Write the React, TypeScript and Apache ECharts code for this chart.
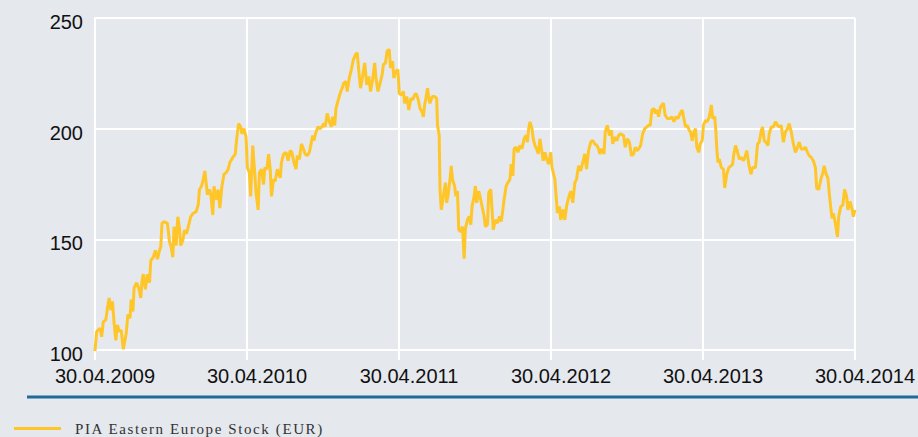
import React, { useEffect, useRef } from "react";
import * as echarts from "echarts";

const seriesName = "PIA Eastern Europe Stock (EUR)";
const xTickLabels = ["30.04.2009", "30.04.2010", "30.04.2011", "30.04.2012", "30.04.2013", "30.04.2014"];
const yTicks = [100, 150, 200, 250];

// days since 30.04.2009
const days = [
  0, 4, 12, 16, 20, 26, 30, 34, 38, 42, 46, 50, 54, 58, 63, 68, 75, 79, 84, 87, 91, 94, 100, 105, 110, 113, 116, 121, 126, 131,
  134, 140, 145, 150, 155, 158, 161, 166, 174, 179, 183, 187, 190, 195, 199, 203, 206, 211, 215, 220, 225, 230, 236, 243, 248, 251,
  256, 260, 264, 267, 270, 275, 278, 283, 286, 291, 296, 300, 305, 310, 315, 320, 324, 331, 337, 340, 345, 350, 353, 358, 363, 366,
  371, 374, 379, 384, 387, 392, 395, 400, 405, 408, 413, 417, 421, 424, 429, 433, 438, 445, 448, 453, 459, 464, 469, 473, 478, 483,
  486, 491, 496, 501, 505, 510, 515, 520, 523, 526, 531, 536, 541, 545, 550, 553, 558, 563, 568, 571, 576, 579,
  589, 594, 598, 603, 606, 611, 616, 621, 626, 630, 634, 638, 643, 648, 653, 658, 662, 667, 672, 675, 680, 685, 690, 693, 698, 702,
  707, 710, 715, 718, 723, 728, 731, 736, 741, 744, 749, 754, 759, 763, 768, 771, 776, 781, 786, 789, 792, 795, 799, 802, 805, 810,
  816, 821, 823, 827, 829, 832, 837, 842, 845, 848, 853, 856, 859, 864, 867, 871, 874, 879, 883, 887, 890, 895, 899, 903, 906, 911,
  914, 917, 922, 925, 930, 935, 938, 943, 946, 951, 954, 957, 962, 967, 972, 976, 980, 983, 988, 992, 997, 1000, 1004, 1007, 1012,
  1016, 1021, 1026, 1031, 1036, 1039, 1042, 1045, 1050, 1053, 1057, 1061, 1065, 1069, 1074, 1077, 1081, 1085, 1090, 1095, 1098,
  1101, 1105, 1108, 1111, 1116, 1119, 1124, 1129, 1133, 1138, 1143, 1148, 1153, 1157, 1162, 1167, 1172, 1177, 1181, 1186, 1191,
  1196, 1201, 1206, 1210, 1213, 1218, 1223,
  1226, 1231, 1236, 1241, 1244, 1249, 1254, 1258, 1263, 1270, 1274, 1279, 1284, 1289, 1294, 1298, 1302, 1306, 1311, 1316, 1321,
  1326, 1330, 1334, 1338, 1343, 1346, 1351, 1354, 1359, 1366, 1370, 1375, 1382, 1386, 1391, 1396, 1401, 1406, 1411, 1414, 1419,
  1423, 1428, 1431, 1435, 1439, 1443, 1446, 1451, 1454, 1459, 1462, 1467, 1471, 1476, 1481, 1484, 1489, 1492, 1494, 1497, 1500,
  1505, 1510, 1513, 1518, 1523, 1528, 1532, 1535, 1539, 1543, 1548, 1553, 1558, 1563, 1566, 1571, 1576, 1580, 1587, 1592, 1596,
  1601, 1604, 1608, 1612, 1617, 1620, 1625, 1630, 1635, 1640, 1644, 1649, 1654, 1659, 1664, 1668, 1673, 1678, 1683, 1688, 1692,
  1697, 1702, 1707, 1712, 1716, 1721, 1726, 1731, 1734, 1739, 1744, 1749, 1752, 1757, 1761, 1765, 1768, 1771, 1774, 1779, 1784,
  1787, 1792, 1797, 1801, 1806, 1809, 1814, 1819, 1822, 1826,
];

const values = [
  99.5, 108.3, 109.8, 106, 112.8, 113.6, 119, 123.5, 118, 122, 112, 104.4, 111.3, 108.3, 109, 100.3, 107.5, 116, 114.4, 122.8, 117.4,
  128.1, 130.4, 128, 123.5, 131.2, 134.3, 127.4, 134.3, 130.4,
  140.4, 141.9, 145, 141.1, 145, 146.5, 157.2, 158, 157.2, 148.8, 146.5, 141.9, 155.7, 147.2, 160.2, 154.9, 147.2, 149.5, 154.1,
  152.6, 156.4, 160.2, 161.8, 162.5, 165.6, 172.5,
  174, 177.1, 180.9, 175.5, 170.2, 172.5, 171, 161, 174, 167.9, 172.5, 164.1, 174, 179.4, 180.1, 181.7, 184.7, 187, 188.5, 194.6,
  202.3, 200.8, 197.7, 200, 196.2, 182.4,
  180.1, 169.4, 192.4, 179.4, 171, 163.3, 180.1, 181.7, 174.8, 182.4, 181.7, 188.5, 181.7, 169.4, 177.1, 176.3, 181.7, 177.8,
  184.7, 188.5, 189.3, 185.5, 190.1, 189.3, 184.7, 181.7,
  187.8, 186.2, 193.1, 190.8, 188.5, 187.8, 189.3, 193.9, 196.9, 194.6, 198.5, 200.8, 200, 200.8, 202.3, 200.8, 206.9, 203.1,
  200.8, 205.4, 201.5, 209.2,
  216, 218.3, 220.6, 221.3, 216.8, 222.9, 226.7, 231.3, 233.5, 234.3, 225.9, 218.3, 223.6, 229.7, 219.8, 223.6, 216.8, 222.1,
  229.7, 222.9, 216.8, 220.6, 224.4, 229, 229.7, 235.1,
  235.8, 227.4, 230.5, 222.9, 225.9, 226.7, 216, 215.2, 216.8, 211.4, 214.5, 208.4, 213.7, 213, 215.2, 216, 213.7, 209.1, 207.6,
  205.3, 210.7, 213.7, 218.3, 213.7, 211.4, 214.5,
  214.5, 213.7, 201.5, 197, 172.6, 163.4, 169.5, 175.6, 166.5, 169.5, 177.1, 183.2, 177.1, 174.1, 169.5, 171.8, 154.3, 153.5,
  155.8, 141.3, 155, 158.8, 160.4, 156.6, 164.9, 169.5,
  174.1, 166.5, 171.8, 169.5, 164.9, 160.4, 155.8, 156.6, 171, 172.6, 163.4, 154.3, 158.8, 157.3, 160.4, 158, 163.4, 168, 174.1,
  175.6, 177.1, 184, 178.7, 190.9, 191.6,
  189.3, 192.4, 190.9, 195.4, 197, 193.9, 200, 203, 200, 195.4, 192.4, 190.9, 188.6, 195.4, 189.3, 185.5, 189.3, 186.3, 184,
  189.3, 182.5,
  180.2, 177.1, 169.5, 161.9, 164.9, 158.8, 163.4, 158.8, 164.9, 168.8, 171.8, 166.5, 175.6, 177.1, 183.2, 180.9, 184.8, 188.6,
  181.7, 190.1, 193.9,
  194.7, 193.1, 192.4, 190.9, 188.6, 190.9, 188.6,
  198.5, 201.5, 196.9, 199.2, 193.1, 196.2, 194.6, 196.9, 197.7, 196.9, 191.6, 195.4, 193.9, 187.8, 188.5, 191.6, 190.1, 190.8,
  192.4, 197.7, 200,
  200.8, 201.5, 201.5, 208.4, 209.2, 206.9, 208.4, 205.4, 209.9, 211.5, 206.1, 204.6, 204.6, 205.4, 203.1, 205.4, 204.6, 206.9,
  208.4, 205.4, 200.8,
  201.5, 199.2, 198.5, 194.6, 198.5, 200, 191.6, 189.3, 193.1, 194.6, 201.5, 203.8, 203.1, 205.4, 210.7, 204.6, 205.4, 198.5,
  190.8, 184.7, 186.2,
  182.4, 181.7, 173.2, 179.4, 182.4, 183.2, 183.9, 188.5, 192.4, 190.1, 186.2, 187, 185.5, 187.8, 190.1, 183.9, 179.4, 182.4,
  182.4, 193.1, 193.9,
  199.2, 200.8, 194.6, 193.9, 192.4, 197.7, 200.8, 200.8, 203.1, 201.5, 200.8, 201.5, 193.9, 198.5, 200, 202.3, 198.5, 193.1,
  189.3, 191.6, 193.9,
  190.8, 190.8, 191.6, 189.3, 187.8, 187, 185.5, 182.4, 173.2, 172.5, 177.1, 180.1, 183.2, 179.4, 177.8, 169.4, 164.1, 159.5,
  161.8, 157.2, 151.1,
  160.4, 164.8, 165.6, 172.5, 169.4, 163.3, 167.1, 163.6, 160.2, 163.3,
];

const YEAR_DAYS = 365.2;

export default function App() {
  const ref = useRef<HTMLDivElement>(null);

  useEffect(() => {
    if (!ref.current) return;
    const chart = echarts.init(ref.current, undefined, { renderer: "svg" });
    const data = days.map((d, i) => [d, values[i]]);
    chart.setOption({
      animation: false,
      backgroundColor: "#e5e8ed",
      grid: { left: 95, right: 63, top: 18, bottom: 87, containLabel: false },
      legend: {
        show: true,
        left: 9,
        top: 416,
        icon: "rect",
        itemWidth: 47,
        itemHeight: 3,
        data: [seriesName],
        textStyle: {
          fontFamily: "Liberation Serif",
          fontSize: 15,
          color: "#333333",
          padding: [0, 0, 0, 9],
        },
      },
      xAxis: {
        type: "value",
        min: 0,
        max: 5 * YEAR_DAYS,
        interval: YEAR_DAYS,
        axisLine: { show: true, lineStyle: { color: "#ffffff", width: 2 } },
        axisTick: { show: true, length: 10, lineStyle: { color: "#ffffff", width: 2 } },
        splitLine: { show: true, lineStyle: { color: "#ffffff", width: 2 } },
        axisLabel: {
          margin: 16,
          padding: [0, 0, 0, 20],
          fontFamily: "Liberation Sans",
          fontSize: 20,
          color: "#111111",
          formatter: (v: number) => xTickLabels[Math.round(v / YEAR_DAYS)] ?? "",
        },
      },
      yAxis: {
        type: "value",
        min: yTicks[0],
        max: yTicks[yTicks.length - 1],
        interval: 50,
        axisLine: { show: true, lineStyle: { color: "#ffffff", width: 2 } },
        axisTick: { show: false },
        splitLine: { show: true, lineStyle: { color: "#ffffff", width: 2 } },
        axisLabel: {
          margin: 12,
          verticalAlign: "top",
          lineHeight: 8,
          fontFamily: "Liberation Sans",
          fontSize: 20,
          color: "#111111",
        },
      },
      graphic: [
        {
          type: "line",
          shape: { x1: 27, y1: 397, x2: 918, y2: 397 },
          style: { stroke: "#1f6a9a", lineWidth: 3 },
        },
      ],
      series: [
        {
          name: seriesName,
          type: "line",
          data,
          showSymbol: false,
          symbol: "none",
          itemStyle: { color: "#ffc629" },
          lineStyle: { color: "#ffc629", width: 3 },
        },
      ],
    });
    return () => chart.dispose();
  }, []);

  return (
    <>
      <style>{`body{margin:0} .chartbox text[style*="Liberation Serif"], .chartbox text[font-family*="Liberation Serif"]{letter-spacing:1.6px}`}</style>
      <div
        className="chartbox"
        ref={ref}
        style={{ position: "absolute", left: 0, top: 0, width: 918, height: 437 }}
      />
    </>
  );
}
